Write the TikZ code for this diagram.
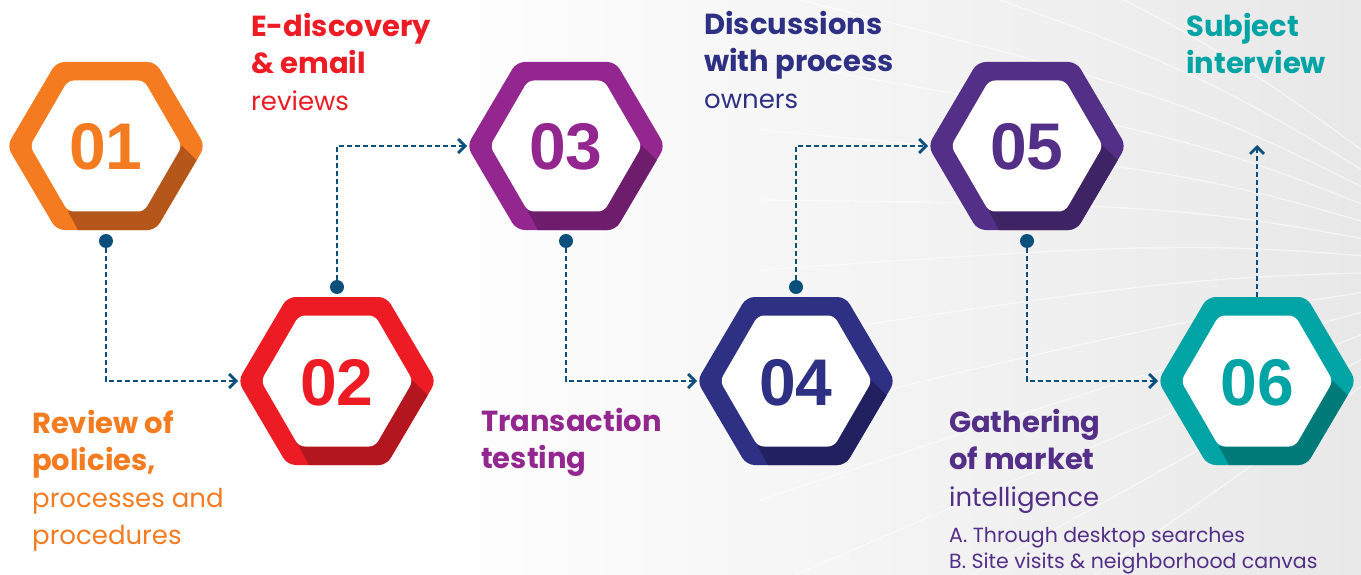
\documentclass[tikz,border=0pt]{standalone}
\usepackage{fontspec}
\setmainfont{Poppins}
\newfontfamily\numfont{Liberation Sans}
\usetikzlibrary{arrows.meta,calc}
\definecolor{cLine}{HTML}{0B4F7C}
\definecolor{bgGray}{HTML}{E8E8E8}
\definecolor{oMain}{HTML}{F47B20}\definecolor{oDark}{HTML}{B5561B}
\definecolor{rMain}{HTML}{ED1C24}\definecolor{rDark}{HTML}{B3161F}
\definecolor{mMain}{HTML}{93278F}\definecolor{mDark}{HTML}{6D1D6B}
\definecolor{nMain}{HTML}{2E3083}\definecolor{nDark}{HTML}{22215F}
\definecolor{pMain}{HTML}{532F87}\definecolor{pDark}{HTML}{3E2464}
\definecolor{tMain}{HTML}{00A4A4}\definecolor{tDark}{HTML}{007B79}
\newcommand\bl[1]{{\fontsize{29}{37}\selectfont\bfseries #1}}
\newcommand\hexstep[6]{%
\begin{scope}[shift={(#2,#3)}]
 \begin{scope}
  \clip[rounded corners=8pt] (0,-84) -- (49.5,-84) -- (99,0) -- (49.5,84) -- (-49.5,84) -- (-99,0) -- (-49.5,-84) -- cycle;
  \fill[#4] (-110,-100) rectangle (110,100);
  \fill[#5] (76,0) -- (110,32.8) -- (110,100) -- (-19.4,100) -- (-38,65.5) -- cycle;
 \end{scope}
 \fill[white, rounded corners=6pt] (0,-65.5) -- (38,-65.5) -- (76,0) -- (38,65.5) -- (-38,65.5) -- (-76,0) -- (-38,-65.5) -- cycle;
 \node[num, text=#4] (#1) at (0,24) {#6};
\end{scope}}
\begin{document}
\begin{tikzpicture}[x=1pt,y=-1pt,
 lbl/.style={anchor=base west, align=left, inner sep=0pt, font=\fontsize{26}{37}\selectfont},
 sub/.style={anchor=base west, align=left, inner sep=0pt, font=\fontsize{20.5}{26}\selectfont},
 num/.style={anchor=base, inner sep=0pt, font=\numfont\bfseries\fontsize{66}{66}\selectfont},
 conn/.style={draw=cLine, line width=2.8pt, dash pattern=on 5pt off 3pt, -{Straight Barb[length=7pt,width=14pt]}},
 dot/.style={circle, fill=cLine, inner sep=0pt, minimum size=14pt},
 streak/.style={white, line width=1.3pt, opacity=.55}]
\useasboundingbox (0,0) rectangle (1361,575);
% background
\fill[white] (0,0) rectangle (1361,575);
\shade[left color=white, right color=bgGray] (420,0) rectangle (1361,575);
\begin{scope}
 \clip (420,0) rectangle (1361,575);
 \foreach \yb in {-160,-80,-10,60,130,200,270,340,420,500,590,690,800}{
  \draw[streak] (1520,270) .. controls (1200,{(270+\yb)/2-30}) .. (760,\yb);
 }
\end{scope}
% hexagons
\hexstep{h1}{106}{146}{oMain}{oDark}{01}
\hexstep{h2}{337}{381}{rMain}{rDark}{02}
\hexstep{h3}{566}{146}{mMain}{mDark}{03}
\hexstep{h4}{796}{381}{nMain}{nDark}{04}
\hexstep{h5}{1027}{146}{pMain}{pDark}{05}
\hexstep{h6}{1257}{381}{tMain}{tDark}{06}
% connector end points
\coordinate (w2) at (238,381);
\coordinate (w3) at (467,146);
\coordinate (w4) at (697,381);
\coordinate (w5) at (928,146);
\coordinate (w6) at (1158,381);
\coordinate (n6) at (1257,297);
\coordinate (t6) at (1257,145);
% dots
\node[dot] (d1) at (106,241) {};
\node[dot] (d2) at (337,287) {};
\node[dot] (d3) at (566,241) {};
\node[dot] (d4) at (796,287) {};
\node[dot] (d5) at (1027,241) {};
% connectors
\draw[conn] (d1) |- (w2);
\draw[conn] (d2) |- (w3);
\draw[conn] (d3) |- (w4);
\draw[conn] (d4) |- (w5);
\draw[conn] (d5) |- (w6);
\draw[conn] (n6) -- (t6);
% labels (anchor = baseline of last line)
\node[lbl, text=oMain] (l1) at (32,544) {\bl{Review of}\\\bl{policies,}\\processes and\\procedures};
\node[lbl, text=rMain] (l2) at (251,111) {\bl{E-discovery}\\\bl{\& email}\\reviews};
\node[lbl, text=mMain] (l3) at (481,468) {\bl{Transaction}\\\bl{testing}};
\node[lbl, text=nMain] (l4) at (704,109) {\bl{Discussions}\\\bl{with process}\\owners};
\node[lbl, text=pMain] (l5) at (949,506) {\bl{Gathering}\\\bl{of market}\\intelligence};
\node[sub, text=pMain] (l5b) at (949,568) {A. Through desktop searches\\B. Site visits \& neighborhood canvas};
\node[lbl, text=tMain] (l6) at (1186,74) {\bl{Subject}\\\bl{interview}};
\end{tikzpicture}
\end{document}
